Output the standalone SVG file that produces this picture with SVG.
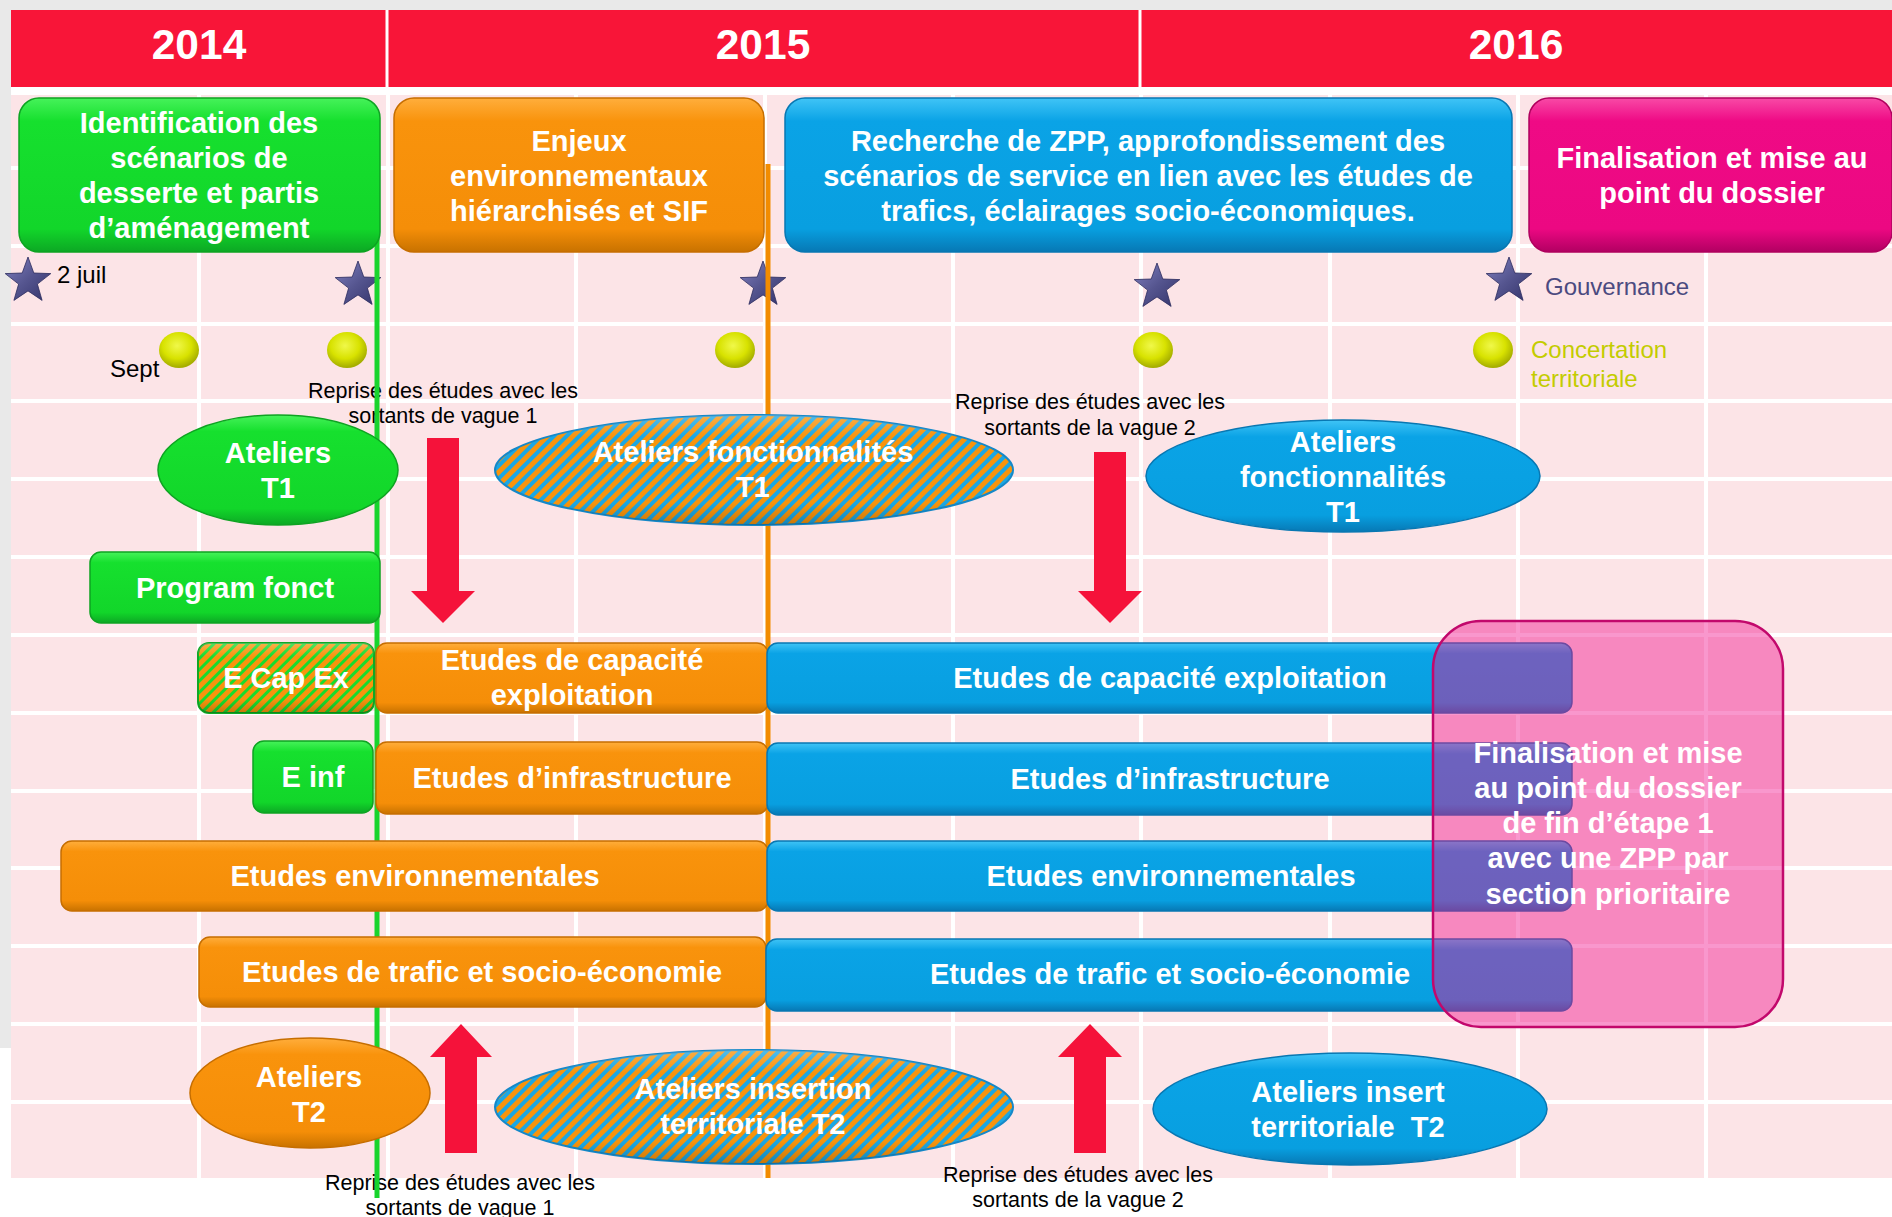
<svg xmlns="http://www.w3.org/2000/svg" width="1892" height="1217" viewBox="0 0 1892 1217">
<defs>
<style>
.t{font-family:"Liberation Sans",Arial,sans-serif;font-weight:bold;fill:#fff;font-size:29px;text-anchor:middle}
.yr{font-family:"Liberation Sans",Arial,sans-serif;font-weight:bold;fill:#fff;font-size:42.5px;text-anchor:middle}
.n{font-family:"Liberation Sans",Arial,sans-serif;fill:#000;font-size:21.5px;text-anchor:middle}
.lg{font-family:"Liberation Sans",Arial,sans-serif;font-size:24px}
.gv{stroke:#fff;stroke-width:4}
.gh{stroke:#fff;stroke-width:4}
.g{fill:url(#gG);stroke:#0ea322;stroke-width:1.5}
.o{fill:url(#gO);stroke:#c66e00;stroke-width:1.5}
.b{fill:url(#gB);stroke:#0877b2;stroke-width:1.5}
.m{fill:url(#gM);stroke:#b0005e;stroke-width:1.5}
.hob{fill:url(#hOB);stroke:#1588c8;stroke-width:2}
.shade{fill:url(#gShade)}
.arr{fill:#f5123a}
.star{fill:url(#gStar);stroke:#2c2c5e;stroke-width:0.8}
.ball{fill:url(#gBall)}
</style>
<linearGradient id="gG" x1="0" y1="0" x2="0" y2="1">
<stop offset="0" stop-color="#46f25a"/><stop offset="0.15" stop-color="#16e02e"/><stop offset="0.85" stop-color="#12d62a"/><stop offset="1" stop-color="#0ca824"/>
</linearGradient>
<linearGradient id="gO" x1="0" y1="0" x2="0" y2="1">
<stop offset="0" stop-color="#ffae3c"/><stop offset="0.15" stop-color="#f9930c"/><stop offset="0.85" stop-color="#f58e08"/><stop offset="1" stop-color="#c87200"/>
</linearGradient>
<linearGradient id="gB" x1="0" y1="0" x2="0" y2="1">
<stop offset="0" stop-color="#40c4f6"/><stop offset="0.15" stop-color="#0aa3e6"/><stop offset="0.85" stop-color="#089fe0"/><stop offset="1" stop-color="#0778b4"/>
</linearGradient>
<linearGradient id="gM" x1="0" y1="0" x2="0" y2="1">
<stop offset="0" stop-color="#f84aa6"/><stop offset="0.15" stop-color="#ef0a85"/><stop offset="0.85" stop-color="#ec0882"/><stop offset="1" stop-color="#b20062"/>
</linearGradient>
<linearGradient id="gShade" x1="0" y1="0" x2="0" y2="1">
<stop offset="0" stop-color="#fff" stop-opacity="0.25"/><stop offset="0.2" stop-color="#fff" stop-opacity="0"/><stop offset="0.8" stop-color="#000" stop-opacity="0"/><stop offset="1" stop-color="#000" stop-opacity="0.2"/>
</linearGradient>
<linearGradient id="gStar" x1="0" y1="0" x2="1" y2="1">
<stop offset="0" stop-color="#8080c0"/><stop offset="0.5" stop-color="#55558f"/><stop offset="1" stop-color="#32326a"/>
</linearGradient>
<radialGradient id="gBall" cx="0.45" cy="0.38" r="0.6">
<stop offset="0" stop-color="#f0f84a"/><stop offset="0.6" stop-color="#d8e200"/><stop offset="1" stop-color="#a6ae00"/>
</radialGradient>
<pattern id="hOB" patternUnits="userSpaceOnUse" width="9" height="9" patternTransform="rotate(45)">
<rect width="9" height="9" fill="#f8940c"/><rect x="5" width="4" height="9" fill="#1ba7e4"/>
</pattern>
<pattern id="hOG" patternUnits="userSpaceOnUse" width="8" height="8" patternTransform="rotate(45)">
<rect width="8" height="8" fill="#f8940c"/><rect x="5" width="3" height="8" fill="#18dc2e"/>
</pattern>
<path id="star" d="M0,-24 L5.8,-8 L22.8,-7.4 L9.4,3.1 L14.1,19.4 L0,9.9 L-14.1,19.4 L-9.4,3.1 L-22.8,-7.4 L-5.8,-8 Z"/>
</defs>

<g id="background">
<rect width="1892" height="1217" fill="#fff"/>
<rect width="1892" height="10" fill="#e9e9e9"/>
<rect width="11" height="1048" fill="#e9e9e9"/>
<rect x="11" y="95" width="1881" height="1083" fill="#fce4e7"/>
<g class="gv">
<line x1="199" y1="95" x2="199" y2="1178"/><line x1="388" y1="95" x2="388" y2="1178"/><line x1="576" y1="95" x2="576" y2="1178"/><line x1="765" y1="95" x2="765" y2="1178"/><line x1="953" y1="95" x2="953" y2="1178"/><line x1="1141" y1="95" x2="1141" y2="1178"/><line x1="1330" y1="95" x2="1330" y2="1178"/><line x1="1518" y1="95" x2="1518" y2="1178"/><line x1="1706" y1="95" x2="1706" y2="1178"/>
</g>
<g class="gh">
<line x1="11" y1="168" x2="1892" y2="168"/><line x1="11" y1="246" x2="1892" y2="246"/><line x1="11" y1="324" x2="1892" y2="324"/><line x1="11" y1="401" x2="1892" y2="401"/><line x1="11" y1="479" x2="1892" y2="479"/><line x1="11" y1="557" x2="1892" y2="557"/><line x1="11" y1="635" x2="1892" y2="635"/><line x1="11" y1="713" x2="1892" y2="713"/><line x1="11" y1="791" x2="1892" y2="791"/><line x1="11" y1="868" x2="1892" y2="868"/><line x1="11" y1="946" x2="1892" y2="946"/><line x1="11" y1="1024" x2="1892" y2="1024"/><line x1="11" y1="1102" x2="1892" y2="1102"/>
</g>
</g>

<g id="header">
<rect x="11" y="10" width="1881" height="77" fill="#f81538"/>
<line x1="387" y1="10" x2="387" y2="87" stroke="#fff" stroke-width="3"/>
<line x1="1140" y1="10" x2="1140" y2="87" stroke="#fff" stroke-width="3"/>
<text class="yr" x="199" y="59">2014</text>
<text class="yr" x="763" y="59">2015</text>
<text class="yr" x="1516" y="59">2016</text>
</g>

<g id="labels">
<text class="n" x="443" y="398">Reprise des études avec les</text>
<text class="n" x="443" y="423">sortants de vague 1</text>
<text class="n" x="1090" y="409">Reprise des études avec les</text>
<text class="n" x="1090" y="435">sortants de la vague 2</text>
<text class="n" x="460" y="1190">Reprise des études avec les</text>
<text class="n" x="460" y="1215">sortants de vague 1</text>
<text class="n" x="1078" y="1182">Reprise des études avec les</text>
<text class="n" x="1078" y="1207">sortants de la vague 2</text>
</g>

<g id="legend">
<use href="#star" class="star" x="28" y="281"/>
<use href="#star" class="star" x="358" y="285"/>
<use href="#star" class="star" x="763" y="285"/>
<use href="#star" class="star" x="1157" y="287"/>
<use href="#star" class="star" x="1509" y="281"/>
<ellipse class="ball" cx="179" cy="350" rx="20" ry="18"/>
<ellipse class="ball" cx="347" cy="350" rx="20" ry="18"/>
<ellipse class="ball" cx="735" cy="350" rx="20" ry="18"/>
<ellipse class="ball" cx="1153" cy="350" rx="20" ry="18"/>
<ellipse class="ball" cx="1493" cy="350" rx="20" ry="18"/>
<text class="lg" x="57" y="283" fill="#000">2 juil</text>
<text class="lg" x="110" y="377" fill="#000">Sept</text>
<text class="lg" x="1545" y="295" fill="#4b4a80">Gouvernance</text>
<text class="lg" x="1531" y="358" fill="#c3cc00">Concertation</text>
<text class="lg" x="1531" y="387" fill="#c3cc00">territoriale</text>
</g>

<g id="milestones">
<line x1="377" y1="175" x2="377" y2="1198" stroke="#18d42c" stroke-width="5"/>
<line x1="768" y1="164" x2="768" y2="1178" stroke="#f28c00" stroke-width="5"/>
</g>

<g id="node-identification">
<rect class="g" x="19" y="98" width="361" height="154" rx="20"/>
<text class="t" x="199" y="133">Identification des</text>
<text class="t" x="199" y="168">scénarios de</text>
<text class="t" x="199" y="203">desserte et partis</text>
<text class="t" x="199" y="238">d’aménagement</text>
</g>
<g id="node-enjeux">
<rect class="o" x="394" y="98" width="370" height="154" rx="20"/>
<text class="t" x="579" y="151">Enjeux</text>
<text class="t" x="579" y="186">environnementaux</text>
<text class="t" x="579" y="221">hiérarchisés et SIF</text>
</g>
<g id="node-recherche">
<rect class="b" x="785" y="98" width="727" height="154" rx="20"/>
<text class="t" x="1148" y="151">Recherche de ZPP, approfondissement des</text>
<text class="t" x="1148" y="186">scénarios de service en lien avec les études de</text>
<text class="t" x="1148" y="221">trafics, éclairages socio-économiques.</text>
</g>
<g id="node-finalisation">
<rect class="m" x="1529" y="98" width="363" height="154" rx="20"/>
<text class="t" x="1712" y="168">Finalisation et mise au</text>
<text class="t" x="1712" y="203">point du dossier</text>
</g>

<g id="node-ateliers-t1">
<ellipse class="g" cx="278" cy="470" rx="120" ry="55"/>
<text class="t" x="278" y="463">Ateliers</text>
<text class="t" x="278" y="498">T1</text>
</g>
<g id="node-ateliers-fonct-2015">
<ellipse class="hob" cx="754" cy="470" rx="259" ry="55"/>
<ellipse class="shade" cx="754" cy="470" rx="259" ry="55"/>
<text class="t" x="753" y="462">Ateliers fonctionnalités</text>
<text class="t" x="753" y="497">T1</text>
</g>
<g id="node-ateliers-fonct-2016">
<ellipse class="b" cx="1343" cy="476" rx="197" ry="56"/>
<text class="t" x="1343" y="452">Ateliers</text>
<text class="t" x="1343" y="487">fonctionnalités</text>
<text class="t" x="1343" y="522">T1</text>
</g>

<g id="node-program">
<rect class="g" x="90" y="552" width="290" height="71" rx="11"/>
<text class="t" x="235" y="598">Program fonct</text>
</g>

<g id="node-ecapex">
<rect x="198" y="643" width="176" height="70" rx="11" fill="url(#hOG)" stroke="#10a824" stroke-width="2"/>
<rect class="shade" x="198" y="643" width="176" height="70" rx="11"/>
<text class="t" x="286" y="688">E Cap Ex</text>
</g>
<g id="node-capacite-2015">
<rect class="o" x="376" y="643" width="392" height="70" rx="11"/>
<text class="t" x="572" y="670">Etudes de capacité</text>
<text class="t" x="572" y="705">exploitation</text>
</g>
<g id="node-capacite-2016">
<rect class="b" x="767" y="643" width="805" height="70" rx="11"/>
<text class="t" x="1170" y="688">Etudes de capacité exploitation</text>
</g>

<g id="node-einf">
<rect class="g" x="253" y="741" width="120" height="72" rx="11"/>
<text class="t" x="313" y="787">E inf</text>
</g>
<g id="node-infra-2015">
<rect class="o" x="376" y="742" width="392" height="72" rx="11"/>
<text class="t" x="572" y="788">Etudes d’infrastructure</text>
</g>
<g id="node-infra-2016">
<rect class="b" x="767" y="743" width="805" height="72" rx="11"/>
<text class="t" x="1170" y="789">Etudes d’infrastructure</text>
</g>

<g id="node-env-2015">
<rect class="o" x="61" y="841" width="707" height="70" rx="11"/>
<text class="t" x="415" y="886">Etudes environnementales</text>
</g>
<g id="node-env-2016">
<rect class="b" x="767" y="841" width="805" height="70" rx="11"/>
<text class="t" x="1171" y="886">Etudes environnementales</text>
</g>

<g id="node-trafic-2015">
<rect class="o" x="199" y="937" width="567" height="70" rx="11"/>
<text class="t" x="482" y="982">Etudes de trafic et socio-économie</text>
</g>
<g id="node-trafic-2016">
<rect class="b" x="766" y="939" width="806" height="72" rx="11"/>
<text class="t" x="1170" y="984">Etudes de trafic et socio-économie</text>
</g>

<g id="node-ateliers-t2">
<ellipse class="o" cx="310" cy="1093" rx="120" ry="55"/>
<text class="t" x="309" y="1087">Ateliers</text>
<text class="t" x="309" y="1122">T2</text>
</g>
<g id="node-ateliers-insertion-2015">
<ellipse class="hob" cx="754" cy="1107" rx="259" ry="57"/>
<ellipse class="shade" cx="754" cy="1107" rx="259" ry="57"/>
<text class="t" x="753" y="1099">Ateliers insertion</text>
<text class="t" x="753" y="1134">territoriale T2</text>
</g>
<g id="node-ateliers-insert-2016">
<ellipse class="b" cx="1350" cy="1109" rx="197" ry="56"/>
<text class="t" x="1348" y="1102">Ateliers insert</text>
<text class="t" x="1348" y="1137" xml:space="preserve">territoriale  T2</text>
</g>

<g id="connectors">
<path class="arr" d="M427,438 H459 V591 H475 L443,623 L411,591 H427 Z"/>
<path class="arr" d="M1094,452 H1126 V591 H1142 L1110,623 L1078,591 H1094 Z"/>
<path class="arr" d="M445,1153 V1057 H430 L461,1024 L492,1057 H477 V1153 Z"/>
<path class="arr" d="M1074,1153 V1057 H1058 L1090,1024 L1122,1057 H1106 V1153 Z"/>
</g>

<g id="node-finalisation-etape1">
<rect x="1433" y="621" width="350" height="406" rx="48" fill="rgb(241,14,139)" fill-opacity="0.43" stroke="#c2086c" stroke-width="2.5"/>
<text class="t" x="1608" y="763">Finalisation et mise</text>
<text class="t" x="1608" y="798">au point du dossier</text>
<text class="t" x="1608" y="833">de fin d’étape 1</text>
<text class="t" x="1608" y="868">avec une ZPP par</text>
<text class="t" x="1608" y="904">section prioritaire</text>
</g>
</svg>
